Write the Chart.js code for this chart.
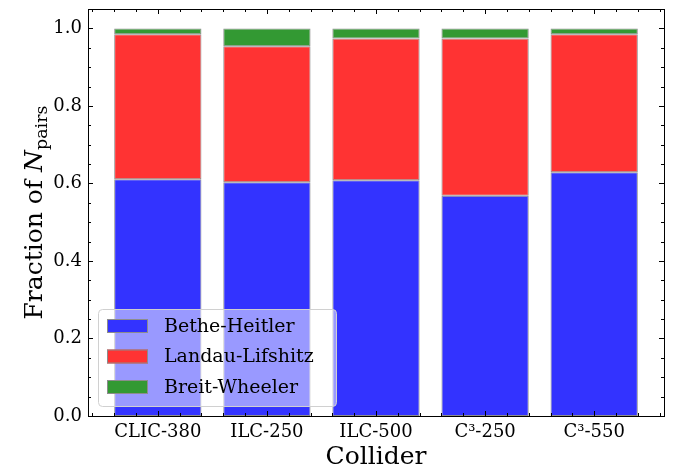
<!DOCTYPE html>
<html>
<head>
<meta charset="utf-8">
<script src="https://cdn.jsdelivr.net/npm/chart.js@4.4.1/dist/chart.umd.min.js"></script>
<style>
    html, body { margin: 0; padding: 0; background: #fff; }
    #wrap { width: 683px; height: 473px; position: relative; }
</style>
</head>
<body>
<div id="wrap"><canvas id="pairsChart"></canvas></div>
<script>
const categories = ['CLIC-380', 'ILC-250', 'ILC-500', 'C\u00b3-250', 'C\u00b3-550'];
const betheHeitler = [0.611, 0.603, 0.608, 0.568, 0.629];
const landauLifshitz = [0.374, 0.351, 0.366, 0.406, 0.356];
const breitWheeler = [0.015, 0.046, 0.026, 0.026, 0.015];
const seriesNames = ['Bethe-Heitler', 'Landau-Lifshitz', 'Breit-Wheeler'];
const seriesColors = ['#3333ff', '#ff3333', '#339933'];
const yTicks = [0, 0.2, 0.4, 0.6, 0.8, 1.0];

const FONT = "'DejaVu Serif', serif";
Chart.defaults.color = '#000';
Chart.defaults.font.family = FONT;

function toPoints(values) {
    return values.map((v, i) => ({ x: i, y: v }));
}

// inward ticks on all four sides plus the axes frame, drawn over the bars
const frameTicks = {
    id: 'frameTicks',
    afterDatasetsDraw(chart) {
        const { ctx, chartArea: a, scales } = chart;
        ctx.save();
        ctx.strokeStyle = '#000';
        ctx.lineWidth = 1;
        ctx.beginPath();
        for (let v = -0.6; v <= 4.61; v += 0.2) {
            const major = Math.abs(v - Math.round(v)) < 1e-6;
            const len = major ? 5 : 3;
            const x = Math.round(scales.x.getPixelForValue(v)) + 0.5;
            ctx.moveTo(x, a.bottom); ctx.lineTo(x, a.bottom - len);
            ctx.moveTo(x, a.top); ctx.lineTo(x, a.top + len);
        }
        for (let i = 0; i <= 21; i++) {
            const v = i * 0.05;
            const len = i % 4 === 0 ? 5 : 3;
            const y = Math.round(scales.y.getPixelForValue(v)) + 0.5;
            ctx.moveTo(a.left, y); ctx.lineTo(a.left + len, y);
            ctx.moveTo(a.right, y); ctx.lineTo(a.right - len, y);
        }
        ctx.stroke();
        ctx.strokeRect(Math.round(a.left) + 0.5, Math.round(a.top) + 0.5,
            Math.round(a.right - a.left), Math.round(a.bottom - a.top));
        ctx.restore();
    }
};

// matplotlib-like legend box in the lower left corner
const boxLegend = {
    id: 'boxLegend',
    afterDatasetsDraw(chart) {
        const { ctx, chartArea: a } = chart;
        const x0 = a.left + 10, y1 = a.bottom - 10;
        const w = 238, h = 97;
        ctx.save();
        ctx.beginPath();
        ctx.roundRect(x0 + 0.5, y1 - h + 0.5, w, h, 4);
        ctx.fillStyle = 'rgba(255,255,255,0.5)';
        ctx.fill();
        ctx.strokeStyle = '#d0d0d0';
        ctx.lineWidth = 1;
        ctx.stroke();
        ctx.font = '19px ' + FONT;
        ctx.textBaseline = 'middle';
        seriesNames.forEach((name, i) => {
            const cy = y1 - h + 17 + i * 30.5;
            ctx.fillStyle = seriesColors[i];
            ctx.fillRect(x0 + 9, cy - 7, 41, 14);
            ctx.strokeStyle = '#8c8c8c';
            ctx.strokeRect(x0 + 9.5, cy - 6.5, 40, 13);
            ctx.fillStyle = '#000';
            ctx.fillText(name, x0 + 66, cy + 1);
        });
        ctx.restore();
    }
};

// y title with italic N and subscript "pairs"
const yTitle = {
    id: 'yTitle',
    afterDraw(chart) {
        const { ctx, chartArea: a } = chart;
        const main = '25px ' + FONT, ital = 'italic 25px ' + FONT, sub = '17.5px ' + FONT;
        ctx.save();
        ctx.font = main; const w1 = ctx.measureText('Fraction of ').width;
        ctx.font = ital; const w2 = ctx.measureText('N').width;
        ctx.font = sub; const w3 = ctx.measureText('pairs').width;
        const total = w1 + w2 + w3;
        ctx.translate(42, (a.top + a.bottom) / 2);
        ctx.rotate(-Math.PI / 2);
        ctx.fillStyle = '#000';
        ctx.textBaseline = 'alphabetic';
        let x = -total / 2;
        ctx.font = main; ctx.fillText('Fraction of ', x, 0); x += w1;
        ctx.font = ital; ctx.fillText('N', x, 0); x += w2;
        ctx.font = sub; ctx.fillText('pairs', x, 5);
        ctx.restore();
    }
};

const datasets = [betheHeitler, landauLifshitz, breitWheeler].map((values, i) => ({
    label: seriesNames[i],
    data: toPoints(values),
    backgroundColor: seriesColors[i],
    borderColor: '#8c8c8c',
    borderWidth: 1,
    borderSkipped: false,
    barPercentage: 0.8,
    categoryPercentage: 1.0
}));

new Chart(document.getElementById('pairsChart').getContext('2d'), {
    type: 'bar',
    data: { datasets },
    options: {
        responsive: true,
        maintainAspectRatio: false,
        animation: false,
        layout: { padding: { top: 9, right: 19, left: 0, bottom: 0 } },
        scales: {
            x: {
                type: 'linear',
                stacked: true,
                offset: false,
                min: -0.64,
                max: 4.64,
                grid: { display: false, drawTicks: false, offset: false },
                border: { display: false },
                afterBuildTicks: s => { s.ticks = categories.map((c, i) => ({ value: i })); },
                afterFit: s => { s.height = 57; s.paddingLeft = 0; s.paddingRight = 0; },
                ticks: {
                    autoSkip: false,
                    maxRotation: 0,
                    padding: 6,
                    font: { size: 18 },
                    callback: v => categories[v]
                },
                title: {
                    display: true,
                    text: 'Collider',
                    font: { size: 25 },
                    padding: { top: 0, bottom: 1 }
                }
            },
            y: {
                stacked: true,
                min: 0,
                max: 1.05,
                grid: { display: false, drawTicks: false },
                border: { display: false },
                afterBuildTicks: s => { s.ticks = yTicks.map(v => ({ value: v })); },
                afterFit: s => { s.width = 88; s.paddingTop = 0; s.paddingBottom = 0; },
                ticks: {
                    padding: 6,
                    font: { size: 18 },
                    callback: v => v.toFixed(1)
                }
            }
        },
        plugins: {
            legend: { display: false },
            tooltip: { enabled: false }
        }
    },
    plugins: [frameTicks, boxLegend, yTitle]
});
</script>
</body>
</html>
